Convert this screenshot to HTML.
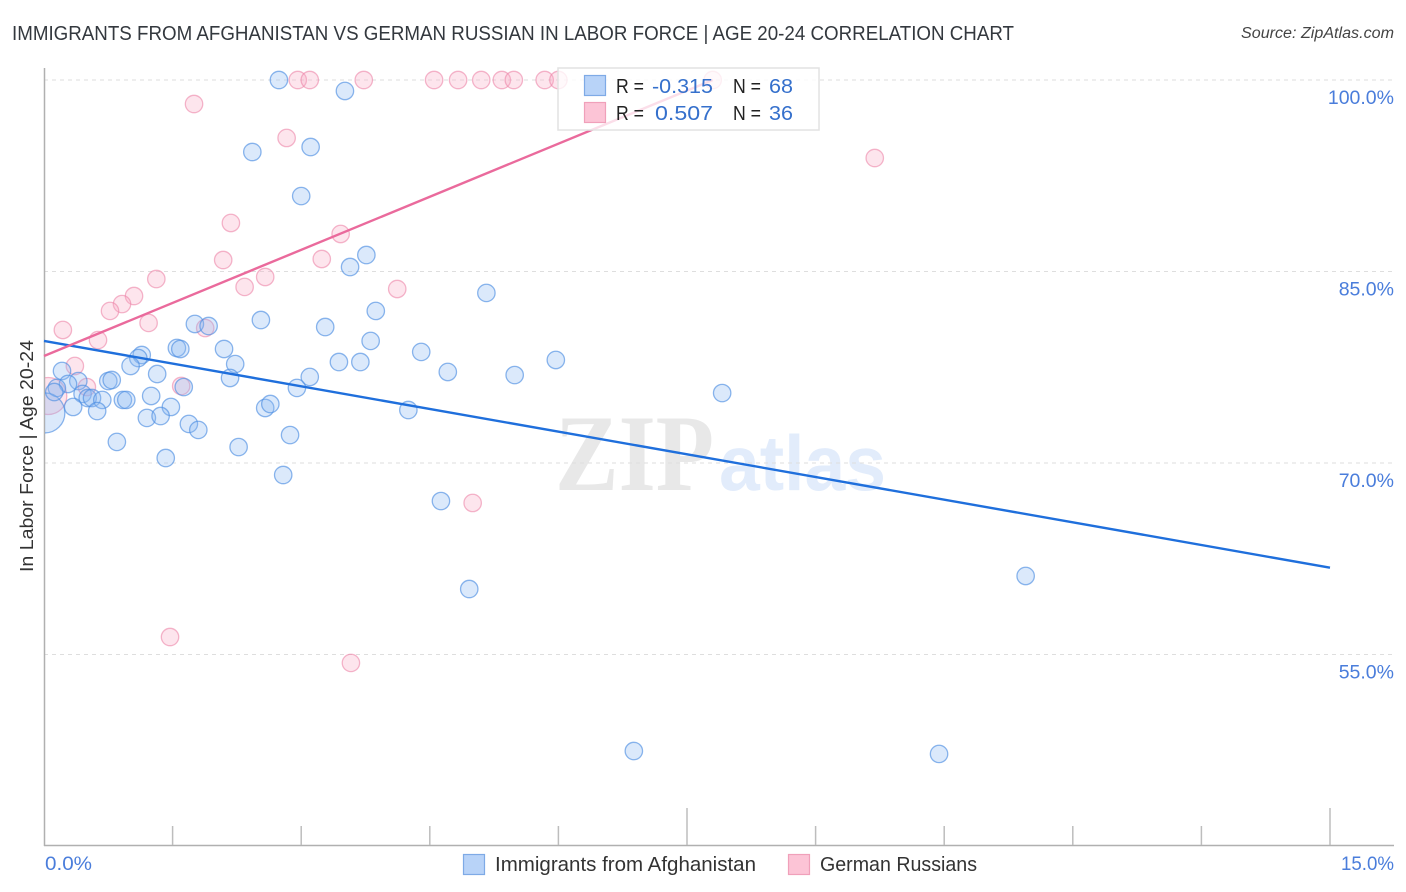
<!DOCTYPE html>
<html lang="en">
<head>
<meta charset="utf-8">
<title>Immigrants from Afghanistan vs German Russian in Labor Force | Age 20-24 Correlation Chart</title>
<style>
html,body{margin:0;padding:0;background:#fff;width:1406px;height:892px;overflow:hidden}
svg{display:block;font-family:"Liberation Sans",sans-serif}
</style>
</head>
<body>
<svg id="chart" xmlns="http://www.w3.org/2000/svg" width="1406" height="892" viewBox="0 0 1406 892">
  <defs>
    <clipPath id="plot-clip"><rect x="45" y="60" width="1349" height="785"></rect></clipPath>
  </defs>
  <rect x="0" y="0" width="1406" height="892" fill="#fff"></rect>
  <text x="12" y="40" font-size="20" fill="#33383e" textLength="1002" lengthAdjust="spacingAndGlyphs">IMMIGRANTS FROM AFGHANISTAN VS GERMAN RUSSIAN IN LABOR FORCE | AGE 20-24 CORRELATION CHART</text>
  <text x="1241" y="38" font-size="15.5" font-style="italic" fill="#444" textLength="153" lengthAdjust="spacingAndGlyphs">Source: ZipAtlas.com</text>
  <text x="555" y="490" font-size="109" font-weight="bold" style="font-family:'Liberation Serif',serif" fill="#e8e8e8" textLength="159" lengthAdjust="spacingAndGlyphs">ZIP</text>
  <text x="719" y="490" font-size="78" font-weight="bold" style="font-family:'Liberation Sans',sans-serif" fill="#e2ecfb" textLength="167" lengthAdjust="spacingAndGlyphs">atlas</text>
  <g id="grid"></g>
  <g id="axes"></g>
  <g id="marks" clip-path="url(#plot-clip)"></g>
  <g id="trends"></g>
  <text transform="translate(33,572) rotate(-90)" font-size="18" fill="#333" textLength="232" lengthAdjust="spacingAndGlyphs">In Labor Force | Age 20-24</text>

  <g>
    <rect x="558" y="68" width="261" height="62" fill="#fff" fill-opacity="0.78" stroke="#e2e2e2" stroke-width="1.5"></rect>
    <rect x="584.5" y="75.5" width="21" height="20" fill="#b8d3f8" stroke="#7eaae6" stroke-width="1.2"></rect>
    <rect x="584.5" y="102.5" width="21" height="20" fill="#fcc4d6" stroke="#f0a0ba" stroke-width="1.2"></rect>
    <text x="616" y="93" font-size="20" fill="#222" textLength="28" lengthAdjust="spacingAndGlyphs">R =</text>
    <text x="652" y="93" font-size="20.5" fill="#3570cc" textLength="61" lengthAdjust="spacingAndGlyphs">-0.315</text>
    <text x="733" y="93" font-size="20" fill="#222" textLength="28" lengthAdjust="spacingAndGlyphs">N =</text>
    <text x="769" y="93" font-size="20.5" fill="#3570cc" textLength="24" lengthAdjust="spacingAndGlyphs">68</text>
    <text x="616" y="120" font-size="20" fill="#222" textLength="28" lengthAdjust="spacingAndGlyphs">R =</text>
    <text x="655" y="120" font-size="20.5" fill="#3570cc" textLength="58" lengthAdjust="spacingAndGlyphs">0.507</text>
    <text x="733" y="120" font-size="20" fill="#222" textLength="28" lengthAdjust="spacingAndGlyphs">N =</text>
    <text x="769" y="120" font-size="20.5" fill="#3570cc" textLength="24" lengthAdjust="spacingAndGlyphs">36</text>
  </g>

  <g>
    <rect x="463.5" y="854.5" width="21" height="20" fill="#b8d3f8" stroke="#7eaae6" stroke-width="1.2"></rect>
    <text x="495" y="871" font-size="20" fill="#333" textLength="261" lengthAdjust="spacingAndGlyphs">Immigrants from Afghanistan</text>
    <rect x="788.5" y="854.5" width="21" height="20" fill="#fcc4d6" stroke="#f0a0ba" stroke-width="1.2"></rect>
    <text x="820" y="871" font-size="20" fill="#333" textLength="157" lengthAdjust="spacingAndGlyphs">German Russians</text>
  </g>
</svg>
<script>
const yTickValues = [100, 85, 70, 55];
const yTickLabels = ["100.0%", "85.0%", "70.0%", "55.0%"];
const xTickValues = [0, 1.5, 3, 4.5, 6, 7.5, 9, 10.5, 12, 13.5, 15];
const xMajorTicks = [7.5, 15];
const xEndLabels = ["0.0%", "15.0%"];

const blueX = [2.74,3.51,2.43,3.11,3.00,3.76,3.57,5.16,2.53,1.76,1.92,3.28,3.87,3.81,2.10,1.55,1.59,4.40,1.14,1.10,1.01,2.23,3.44,3.69,1.32,4.71,5.49,5.97,3.10,2.17,0.21,0.40,0.28,0.75,0.79,0.15,1.63,2.95,7.91,0.45,0.51,0.56,0.68,0.92,0.96,1.25,1.48,4.25,0.34,0.62,1.20,1.36,2.58,2.64,1.69,1.80,2.87,0.85,2.27,1.42,2.79,4.63,11.45,4.96,6.88,10.44,0.01,0.12];
const blueY = [100,99.14,94.36,94.75,90.91,86.29,85.35,83.32,81.20,80.89,80.73,80.65,81.91,79.56,78.93,79.01,78.93,78.70,78.46,78.22,77.60,77.75,77.91,77.91,76.97,77.13,76.89,78.07,76.74,76.66,77.21,76.42,76.19,76.42,76.50,75.88,75.95,75.88,75.48,75.41,75.09,75.09,74.94,74.94,74.94,75.25,74.39,74.15,74.39,74.07,73.53,73.68,74.31,74.62,73.06,72.59,72.19,71.65,71.25,70.39,69.06,67.02,61.15,60.13,47.44,47.21,73.92,75.56];
const blueLargeSamples = [66];

const pinkX = [2.96,3.10,3.73,4.55,4.83,5.10,5.34,5.48,5.84,6.00,7.80,1.75,2.83,9.69,2.18,3.46,2.09,3.24,1.31,2.58,2.34,4.12,1.05,0.91,0.77,1.22,0.22,1.88,0.63,0.36,0.50,1.60,5.00,1.47,3.58,0.05];
const pinkY = [100,100,100,100,100,100,100,100,100,100,100,98.12,95.46,93.89,88.80,87.94,85.90,85.98,84.41,84.57,83.79,83.63,83.08,82.45,81.91,80.97,80.42,80.57,79.63,77.60,75.95,76.03,66.87,56.37,54.34,75.25];
const pinkLargeSamples = [35];

const blueTrendX = [0, 15];
const blueTrendY = [79.56, 61.8];
const pinkTrendX = [0, 7.8];
const pinkTrendY = [78.38, 100];

const NS = "http://www.w3.org/2000/svg";
function xScale(v){ return 44 + v / 15 * 1286; }
function yScale(v){ return 80 + (100 - v) / 15 * 191.5; }
function make(tag, attrs, parent){
  const el = document.createElementNS(NS, tag);
  for (const k in attrs) el.setAttribute(k, attrs[k]);
  parent.appendChild(el);
  return el;
}

const grid = document.getElementById("grid");
const axes = document.getElementById("axes");
const marks = document.getElementById("marks");
const trends = document.getElementById("trends");

yTickValues.forEach(function(v, i){
  const line = make("line", {x1:44, x2:1394, y1:yScale(v), y2:yScale(v), stroke:"#dedede", "stroke-width":1, "stroke-dasharray":"4 4"}, grid);
  
  
  const label = make("text", {x:1394, y:yScale(v) + 24, "font-size":19.5, fill:"#4a7ddb", "text-anchor":"end"}, axes);
  label.textContent = yTickLabels[i];
  
  
});

const yAxisLine = make("line", {x1:44.5, x2:44.5, y1:68, y2:846, stroke:"#b0b0b0", "stroke-width":1.5}, axes);


const xAxisLine = make("line", {x1:44, x2:1394, y1:845.5, y2:845.5, stroke:"#b0b0b0", "stroke-width":1.5}, axes);



xTickValues.forEach(function(v){
  if (v === 0) return;
  const top = xMajorTicks.indexOf(v) >= 0 ? 808 : 826;
  const tick = make("line", {x1:xScale(v), x2:xScale(v), y1:top, y2:845, stroke:"#bdbdbd", "stroke-width":1.5}, axes);
  
  
});

const xStart = make("text", {x:45, y:870, "font-size":19.5, fill:"#4a7ddb", textLength:47, lengthAdjust:"spacingAndGlyphs"}, axes);
xStart.textContent = xEndLabels[0];


const xEnd = make("text", {x:1341, y:870, "font-size":19.5, fill:"#4a7ddb", textLength:53, lengthAdjust:"spacingAndGlyphs"}, axes);
xEnd.textContent = xEndLabels[1];



function radius(i, large, bigR){ return large.indexOf(i) >= 0 ? bigR : 8.7; }

pinkX.forEach(function(v, i){
  const dot = make("circle", {cx:xScale(v), cy:yScale(pinkY[i]), r:radius(i, pinkLargeSamples, 18.5), fill:"#f7a8c4", "fill-opacity":0.3, stroke:"#ec86a8", "stroke-opacity":0.6, "stroke-width":1.3}, marks);
  
  
});
blueX.forEach(function(v, i){
  const dot = make("circle", {cx:xScale(v), cy:yScale(blueY[i]), r:radius(i, blueLargeSamples, 20), fill:"#8ab8f2", "fill-opacity":0.31, stroke:"#4f8fe2", "stroke-opacity":0.65, "stroke-width":1.3}, marks);
  
  
});

const blueTrend = make("line", {x1:xScale(blueTrendX[0]), y1:yScale(blueTrendY[0]), x2:xScale(blueTrendX[1]), y2:yScale(blueTrendY[1]), stroke:"#1f6fdc", "stroke-width":2.4}, trends);


const pinkTrend = make("line", {x1:xScale(pinkTrendX[0]), y1:yScale(pinkTrendY[0]), x2:xScale(pinkTrendX[1]), y2:yScale(pinkTrendY[1]), stroke:"#ea6a9c", "stroke-width":2.4}, trends);


</script>
</body>
</html>
